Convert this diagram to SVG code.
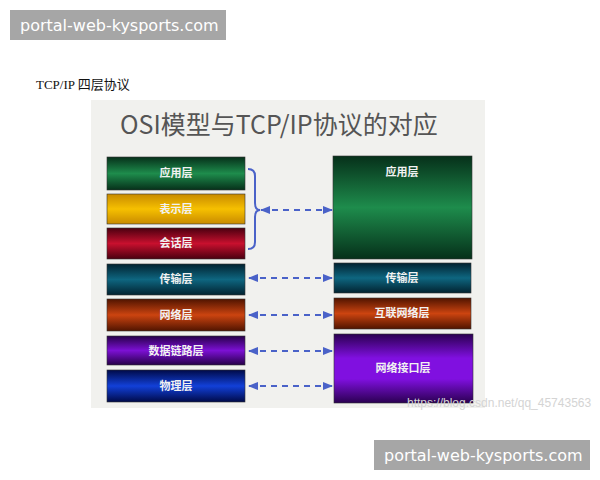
<svg xmlns="http://www.w3.org/2000/svg" width="600" height="480" viewBox="0 0 600 480">
<defs>
<style>
.wm{fill:#a6a6a6}
.wmt{font-family:"DejaVu Sans","Noto Sans",sans-serif;font-size:16px;fill:#ffffff}
.lbl{font-family:"Noto Sans CJK SC",sans-serif;font-size:11px;font-weight:bold;fill:#f2f2f2;text-anchor:middle}
.box{stroke:#333;stroke-width:0.6}
.conn{stroke:#4a62c8;stroke-width:2;stroke-dasharray:6,5;fill:none}
</style>
<linearGradient id="gGreen" x1="0" y1="0" x2="0" y2="1"><stop offset="0" stop-color="#06301a"/><stop offset="0.5" stop-color="#1e8c4c"/><stop offset="1" stop-color="#06301a"/></linearGradient>
<linearGradient id="gYellow" x1="0" y1="0" x2="0" y2="1"><stop offset="0" stop-color="#c88a00"/><stop offset="0.5" stop-color="#f6c000"/><stop offset="1" stop-color="#c88a00"/></linearGradient>
<linearGradient id="gRed" x1="0" y1="0" x2="0" y2="1"><stop offset="0" stop-color="#4a0010"/><stop offset="0.5" stop-color="#c8102e"/><stop offset="1" stop-color="#4a0010"/></linearGradient>
<linearGradient id="gTeal" x1="0" y1="0" x2="0" y2="1"><stop offset="0" stop-color="#022230"/><stop offset="0.5" stop-color="#0e6680"/><stop offset="1" stop-color="#022230"/></linearGradient>
<linearGradient id="gOrange" x1="0" y1="0" x2="0" y2="1"><stop offset="0" stop-color="#501400"/><stop offset="0.5" stop-color="#cc4410"/><stop offset="1" stop-color="#501400"/></linearGradient>
<linearGradient id="gPurple" x1="0" y1="0" x2="0" y2="1"><stop offset="0" stop-color="#260048"/><stop offset="0.5" stop-color="#7c10d4"/><stop offset="1" stop-color="#260048"/></linearGradient>
<linearGradient id="gPurple2" x1="0" y1="0" x2="0" y2="1"><stop offset="0" stop-color="#2a0050"/><stop offset="0.35" stop-color="#8010e0"/><stop offset="0.65" stop-color="#8010e0"/><stop offset="1" stop-color="#2a0050"/></linearGradient>
<linearGradient id="gBlue" x1="0" y1="0" x2="0" y2="1"><stop offset="0" stop-color="#000a48"/><stop offset="0.5" stop-color="#1240d8"/><stop offset="1" stop-color="#000a48"/></linearGradient>
<marker id="ah" viewBox="0 0 10 10" refX="9" refY="5" markerWidth="5" markerHeight="5" orient="auto-start-reverse"><path d="M0,1 L10,5 L0,9 z" fill="#4a62c8"/></marker>
</defs>
<rect width="600" height="480" fill="#ffffff"/>
<g id="watermark-top"><rect class="wm" x="10" y="10" width="216" height="30"/><text class="wmt" x="20" y="31">portal-web-kysports.com</text></g>
<text x="36" y="89" font-family="Liberation Serif,'Noto Sans CJK SC',serif" font-size="13" fill="#111">TCP/IP  四层协议</text>
<rect x="91" y="100" width="394" height="308" fill="#f1f1ee"/>
<text x="120" y="134" font-family="'Noto Sans CJK SC',sans-serif" font-size="25" fill="#555">OSI模型与TCP/IP协议的对应</text>
<g id="osi-app"><rect class="box" x="107" y="157" width="138" height="33" fill="url(#gGreen)"/><text class="lbl" x="176" y="177">应用层</text></g>
<g id="osi-pres"><rect class="box" x="107" y="194" width="138" height="30" fill="url(#gYellow)"/><text class="lbl" x="176" y="213">表示层</text></g>
<g id="osi-sess"><rect class="box" x="107" y="228" width="138" height="31" fill="url(#gRed)"/><text class="lbl" x="176" y="247">会话层</text></g>
<g id="osi-trans"><rect class="box" x="107" y="264" width="138" height="31" fill="url(#gTeal)"/><text class="lbl" x="176" y="283">传输层</text></g>
<g id="osi-net"><rect class="box" x="107" y="299" width="138" height="32" fill="url(#gOrange)"/><text class="lbl" x="176" y="319">网络层</text></g>
<g id="osi-link"><rect class="box" x="107" y="336" width="138" height="29" fill="url(#gPurple)"/><text class="lbl" x="176" y="355">数据链路层</text></g>
<g id="osi-phys"><rect class="box" x="107" y="370" width="138" height="32" fill="url(#gBlue)"/><text class="lbl" x="176" y="390">物理层</text></g>
<g id="tcp-app"><rect class="box" x="333" y="156" width="139" height="103" fill="url(#gGreen)"/><text class="lbl" x="402" y="176">应用层</text></g>
<g id="tcp-trans"><rect class="box" x="334" y="263" width="137" height="30" fill="url(#gTeal)"/><text class="lbl" x="402" y="282">传输层</text></g>
<g id="tcp-inet"><rect class="box" x="334" y="298" width="137" height="31" fill="url(#gOrange)"/><text class="lbl" x="402" y="317">互联网络层</text></g>
<g id="tcp-link"><rect class="box" x="334" y="334" width="139" height="69" fill="url(#gPurple2)"/><text class="lbl" x="403" y="372">网络接口层</text></g>
<g id="connectors">
<path d="M248,169 Q255,169 255,176 L255,203 Q255,210 260,210 Q255,210 255,217 L255,242 Q255,249 248,249" fill="none" stroke="#4a62c8" stroke-width="2"/>
<line class="conn" x1="261" y1="210" x2="332" y2="210" marker-start="url(#ah)" marker-end="url(#ah)"/>
<line class="conn" x1="249" y1="278" x2="332" y2="278" marker-start="url(#ah)" marker-end="url(#ah)"/>
<line class="conn" x1="249" y1="315" x2="332" y2="315" marker-start="url(#ah)" marker-end="url(#ah)"/>
<line class="conn" x1="249" y1="351" x2="332" y2="351" marker-start="url(#ah)" marker-end="url(#ah)"/>
<line class="conn" x1="249" y1="386" x2="332" y2="386" marker-start="url(#ah)" marker-end="url(#ah)"/>
</g>
<text x="407" y="407" font-family="'Liberation Sans',sans-serif" font-size="12" fill="#d4d4d4">https://blog.csdn.net/qq_45743563</text>
<g id="watermark-bottom"><rect class="wm" x="374" y="440" width="216" height="30"/><text class="wmt" x="384" y="461">portal-web-kysports.com</text></g>
</svg>
